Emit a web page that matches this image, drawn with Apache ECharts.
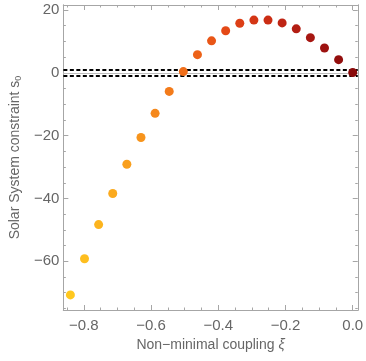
<!DOCTYPE html>
<html>
<head>
<meta charset="utf-8">
<script src="https://cdn.jsdelivr.net/npm/echarts@6/dist/echarts.min.js"></script>
<style>
  html, body { margin: 0; padding: 0; background: #fff; }
  #main { width: 366px; height: 361px; }
</style>
</head>
<body>
<div id="main"></div>
<script>
// data
var xi = [-0.84, -0.798, -0.756, -0.714, -0.672, -0.63, -0.588, -0.546, -0.504, -0.462, -0.42,
          -0.378, -0.336, -0.294, -0.252, -0.21, -0.168, -0.126, -0.084, -0.042, 0];
var s0 = [-70.7, -59.2, -48.3, -38.4, -29.1, -20.6, -12.9, -5.9, 0.4, 5.8, 10.2,
          13.4, 15.8, 16.8, 16.8, 15.9, 14.0, 11.2, 7.9, 4.2, 0.1];
var bounds = [-1, 1];
var xMajor = [-0.8, -0.6, -0.4, -0.2, 0];
var xMinor = [-0.85, -0.75, -0.7, -0.65, -0.55, -0.5, -0.45, -0.35, -0.3, -0.25, -0.15, -0.1, -0.05];
var yMajor = [-60, -40, -20, 0, 20];
var yMinor = [-75, -70, -65, -55, -50, -45, -35, -30, -25, -15, -10, -5, 5, 10, 15];

var chart = echarts.init(document.getElementById('main'));

var frame = '#a6a6a6';
var txt = '#666';
var font = 'Liberation Sans';

var pts = [];
for (var i = 0; i < xi.length; i++) pts.push([xi[i], s0[i]]);

function xAx(pos, ticks, len, labels) {
  return {
    type: 'value', position: pos, min: -0.861, max: 0.015,
    axisLine: { show: true, onZero: false, lineStyle: { color: frame, width: 1 } },
    axisTick: { show: true, inside: true, length: len, customValues: ticks, lineStyle: { color: frame } },
    axisLabel: labels ? {
      show: true, customValues: ticks, margin: 8, color: txt, fontSize: 15, fontFamily: font,
      formatter: function (v) { return v.toFixed(1).replace('-', '\u2212'); }
    } : { show: false },
    splitLine: { show: false }
  };
}
function yAx(pos, ticks, len, labels) {
  return {
    type: 'value', position: pos, min: -75.5, max: 21.6,
    axisLine: { show: true, onZero: false, lineStyle: { color: frame, width: 1 } },
    axisTick: { show: true, inside: true, length: len, customValues: ticks, lineStyle: { color: frame } },
    axisLabel: labels ? {
      show: true, customValues: ticks, margin: 4, color: txt, fontSize: 15, fontFamily: font,
      formatter: function (v) { return String(Math.round(v)).replace('-', '\u2212'); }
    } : { show: false },
    splitLine: { show: false }
  };
}

var xa = xAx('bottom', xMajor, 5, true);
xa.name = 'Non\u2212minimal coupling {it|\u03be}';
xa.nameLocation = 'middle';
xa.nameGap = 25;
xa.nameTextStyle = { color: txt, fontSize: 14, fontFamily: font, rich: { it: { fontStyle: 'italic', fontSize: 14, color: txt, fontFamily: font } } };

var ya = yAx('left', yMajor, 5, true);
ya.name = 'Solar System constraint s{sub|0}';
ya.nameLocation = 'middle';
ya.nameGap = 38;
ya.nameTextStyle = { color: txt, fontSize: 14, fontFamily: font, rich: { sub: { fontSize: 9, color: txt, fontFamily: font, verticalAlign: 'bottom', padding: [7, 0, 0, 0] } } };

var option = {
  animation: false,
  grid: { left: 55, right: 5, top: 5, bottom: 51 },
  xAxis: [xa, xAx('bottom', xMinor, 2.5, false), xAx('top', xMajor, 5, false), xAx('top', xMinor, 2.5, false)],
  yAxis: [ya, yAx('left', yMinor, 2.5, false), yAx('right', yMajor, 5, false), yAx('right', yMinor, 2.5, false)],
  visualMap: {
    show: false, type: 'continuous', dimension: 0, min: -0.84, max: 0, seriesIndex: 0,
    inRange: { color: ['#ffc81f', '#fbac1e', '#f68c1b', '#ef6718', '#e24416', '#c82a14', '#a51612', '#8a0a0a'] }
  },
  series: [{
    type: 'scatter',
    symbolSize: 9,
    z: 5,
    itemStyle: { opacity: 1 },
    data: pts,
    markLine: {
      silent: true, symbol: 'none', label: { show: false },
      data: [
        { yAxis: 0, lineStyle: { color: '#bdbdbd', type: 'solid', width: 1 } },
        { yAxis: bounds[0], lineStyle: { color: '#000', type: [4, 2.5], width: 1.8 } },
        { yAxis: bounds[1], lineStyle: { color: '#000', type: [4, 2.5], width: 1.8 } }
      ]
    }
  }]
};

chart.setOption(option);
</script>
</body>
</html>
